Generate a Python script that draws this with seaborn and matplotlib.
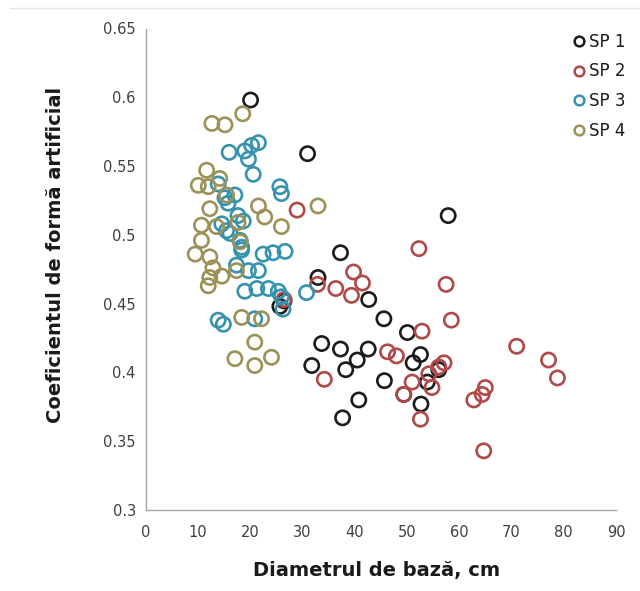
import numpy as np
import pandas as pd
import matplotlib
matplotlib.use("Agg")
import matplotlib.pyplot as plt
import seaborn as sns
from matplotlib.ticker import FuncFormatter
from matplotlib.lines import Line2D

series_names = ["SP 1", "SP 2", "SP 3", "SP 4"]
series_colors = ["#1c1c1c", "#b04a48", "#3593ad", "#9c9157"]

sp1_x = [20.1, 31.0, 57.9, 37.3, 33.0, 42.7, 45.6, 50.1, 33.7, 37.3, 42.6, 40.5,
         38.3, 31.8, 52.6, 51.2, 45.7, 56.1, 53.9, 49.4, 40.8, 37.7, 52.7, 25.7, 26.5]
sp1_y = [0.598, 0.559, 0.514, 0.487, 0.469, 0.453, 0.439, 0.429, 0.421, 0.417, 0.417, 0.409,
         0.402, 0.405, 0.413, 0.407, 0.394, 0.402, 0.393, 0.384, 0.380, 0.367, 0.377, 0.448, 0.452]

sp2_x = [29.0, 52.3, 57.5, 39.8, 41.5, 36.4, 32.9, 39.4, 26.5, 58.5, 52.9, 46.3, 48.0,
         57.1, 56.1, 54.2, 51.0, 54.8, 49.4, 34.2, 52.6, 64.7, 71.0, 77.1, 78.8, 65.0, 64.4, 62.8]
sp2_y = [0.518, 0.490, 0.464, 0.473, 0.465, 0.461, 0.464, 0.456, 0.453, 0.438, 0.430, 0.415, 0.412,
         0.407, 0.404, 0.399, 0.393, 0.389, 0.384, 0.395, 0.366, 0.343, 0.419, 0.409, 0.396, 0.389, 0.384, 0.380]

sp3_x = [16.0, 19.0, 20.3, 21.6, 19.7, 20.6, 25.7, 26.0, 17.1, 13.9, 15.8, 18.7, 14.6, 15.2,
         17.7, 16.2, 18.1, 18.4, 15.5, 18.4, 22.5, 24.4, 26.7, 19.7, 21.6, 19.0, 21.3, 23.5,
         25.4, 26.0, 26.3, 30.8, 13.9, 14.9, 20.9, 17.4]
sp3_y = [0.560, 0.561, 0.565, 0.567, 0.555, 0.544, 0.535, 0.530, 0.529, 0.537, 0.523, 0.510, 0.508, 0.527,
         0.514, 0.501, 0.496, 0.491, 0.503, 0.489, 0.486, 0.487, 0.488, 0.474, 0.474, 0.459, 0.461, 0.461,
         0.459, 0.455, 0.446, 0.458, 0.438, 0.435, 0.439, 0.478]

sp4_x = [12.7, 15.2, 18.6, 11.7, 10.1, 12.0, 14.2, 15.5, 21.6, 22.8, 33.0, 10.7, 12.3, 17.7,
         26.0, 13.6, 10.7, 9.5, 12.3, 12.9, 12.3, 14.6, 12.0, 17.4, 18.1, 18.4, 22.2, 20.9,
         17.1, 20.9, 24.1]
sp4_y = [0.581, 0.580, 0.588, 0.547, 0.536, 0.535, 0.541, 0.529, 0.521, 0.513, 0.521, 0.507, 0.519, 0.509,
         0.506, 0.506, 0.496, 0.486, 0.484, 0.476, 0.469, 0.470, 0.463, 0.474, 0.495, 0.440, 0.439, 0.422,
         0.410, 0.405, 0.411]

x_ticks = [0, 10, 20, 30, 40, 50, 60, 70, 80, 90]
y_ticks = [0.3, 0.35, 0.4, 0.45, 0.5, 0.55, 0.6, 0.65]

frames = []
for name, xs, ys in zip(series_names, [sp1_x, sp2_x, sp3_x, sp4_x], [sp1_y, sp2_y, sp3_y, sp4_y]):
    frames.append(pd.DataFrame({"d": xs, "c": ys, "serie": name}))
df = pd.concat(frames, ignore_index=True)

sns.set_theme(style="white")
plt.rcParams["font.family"] = ["DejaVu Sans"]

fig = plt.figure(figsize=(6.4, 5.91), dpi=100)
ax = fig.add_axes([145.5 / 640, 1 - 510 / 591, 470.5 / 640, 481.5 / 591])

for name, col in zip(series_names, series_colors):
    sub = df[df["serie"] == name]
    sns.scatterplot(data=sub, x="d", y="c", ax=ax, marker="o", s=105,
                    facecolor="none", edgecolor=col, linewidth=1.9, label=name,
                    clip_on=False, legend=False)

ax.set_xlim(0, 90)
ax.set_ylim(0.3, 0.65)
ax.set_xticks(x_ticks)
ax.set_yticks(y_ticks)
ax.yaxis.set_major_formatter(FuncFormatter(lambda v, p: "%g" % round(v, 2)))

for side in ["top", "right"]:
    ax.spines[side].set_visible(False)
for side in ["left", "bottom"]:
    ax.spines[side].set_color("#a6a6a6")
    ax.spines[side].set_linewidth(1.0)
ax.tick_params(axis="both", which="major", direction="out", length=4, width=1.0,
               color="#a6a6a6", labelsize=10.5, labelcolor="#404040")
ax.tick_params(axis="y", pad=3)
ax.tick_params(axis="x", pad=7)
ax.grid(False)

ax.set_xlabel("Diametrul de bază, cm", fontsize=14, fontweight="bold", color="#1a1a1a")
ax.set_ylabel("Coeficientul de formă artificial", fontsize=14, fontweight="bold", color="#1a1a1a")
ax.xaxis.set_label_coords(0.492, -0.105)
ax.yaxis.set_label_coords(-0.172, 0.53)

handles = [Line2D([], [], linestyle="none", marker="o", markersize=7, markerfacecolor="none",
                  markeredgecolor=c, markeredgewidth=1.8) for c in series_colors]
fig.legend(handles, series_names, loc="upper left", bbox_to_anchor=(564 / 640, 1 - 26 / 591),
           frameon=False, fontsize=12, handletextpad=0.1, labelspacing=0.7,
           handlelength=1.0, borderaxespad=0, labelcolor="#1a1a1a")

fig.add_artist(Line2D([10 / 640, 1.0], [1 - 7.5 / 591, 1 - 7.5 / 591], color="#e3e3e3", linewidth=1.0))

fig.savefig("out.png", dpi=100)
